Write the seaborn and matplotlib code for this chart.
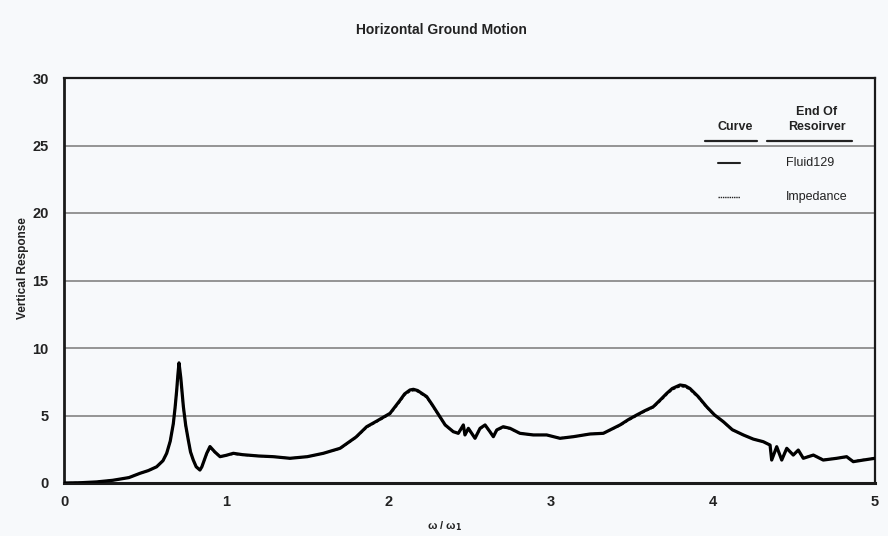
import numpy as np
import pandas as pd
import matplotlib
matplotlib.use("Agg")
import matplotlib.pyplot as plt
import seaborn as sns

# Frequency ratio (omega / omega_1) and vertical response readings
freq_ratio = [0.0, 0.10, 0.20, 0.30, 0.40, 0.469, 0.52, 0.571, 0.61, 0.633, 0.655,
              0.674, 0.685, 0.695, 0.702, 0.709, 0.72, 0.736, 0.75, 0.766, 0.78,
              0.797, 0.815, 0.838, 0.85, 0.865, 0.880, 0.900, 0.930, 0.962, 1.00,
              1.044, 1.10, 1.20, 1.290, 1.393, 1.50, 1.599, 1.702, 1.80, 1.866,
              1.93, 2.010, 2.07, 2.10, 2.133, 2.154, 2.18, 2.236, 2.27, 2.318,
              2.35, 2.400, 2.431, 2.462, 2.472, 2.493, 2.534, 2.565, 2.596, 2.626,
              2.647, 2.668, 2.708, 2.750, 2.811, 2.893, 2.976, 3.058, 3.140, 3.243,
              3.325, 3.428, 3.48, 3.531, 3.58, 3.633, 3.68, 3.716, 3.75, 3.798,
              3.83, 3.859, 3.91, 3.962, 4.01, 4.065, 4.12, 4.188, 4.25, 4.311,
              4.353, 4.363, 4.394, 4.425, 4.456, 4.496, 4.527, 4.558, 4.620, 4.681,
              4.764, 4.825, 4.866, 4.928, 5.0]

fluid129 = [0.0, 0.02, 0.08, 0.20, 0.40, 0.72, 0.92, 1.20, 1.65, 2.20, 3.10,
            4.40, 5.60, 6.90, 8.00, 8.90, 7.80, 5.65, 4.30, 3.20, 2.30,
            1.70, 1.20, 0.96, 1.20, 1.70, 2.20, 2.70, 2.30, 1.95, 2.05,
            2.20, 2.10, 2.00, 1.95, 1.83, 1.95, 2.20, 2.57, 3.40, 4.17,
            4.60, 5.16, 6.10, 6.60, 6.89, 6.94, 6.85, 6.40, 5.80, 4.90,
            4.30, 3.80, 3.68, 4.30, 3.56, 4.05, 3.31, 4.05, 4.30, 3.80,
            3.43, 3.93, 4.17, 4.05, 3.68, 3.56, 3.56, 3.31, 3.43, 3.63,
            3.68, 4.30, 4.70, 5.04, 5.35, 5.65, 6.20, 6.64, 7.00, 7.26,
            7.20, 7.00, 6.40, 5.65, 5.05, 4.54, 3.95, 3.56, 3.25, 3.06,
            2.81, 1.70, 2.69, 1.70, 2.57, 2.07, 2.44, 1.83, 2.07, 1.70,
            1.83, 1.95, 1.58, 1.70, 1.83]

impedance = [0.0, 0.02, 0.08, 0.20, 0.40, 0.72, 0.92, 1.20, 1.65, 2.20, 3.10,
             4.40, 5.55, 6.85, 7.90, 8.80, 7.70, 5.60, 4.25, 3.20, 2.30,
             1.70, 1.22, 0.98, 1.22, 1.70, 2.15, 2.60, 2.28, 1.95, 2.05,
             2.15, 2.08, 2.00, 1.95, 1.83, 1.95, 2.20, 2.55, 3.36, 4.12,
             4.55, 5.10, 6.02, 6.52, 6.80, 6.86, 6.78, 6.34, 5.75, 4.86,
             4.28, 3.80, 3.68, 4.25, 3.58, 4.00, 3.35, 4.00, 4.25, 3.80,
             3.45, 3.90, 4.12, 4.02, 3.68, 3.56, 3.56, 3.33, 3.43, 3.63,
             3.68, 4.26, 4.65, 4.98, 5.30, 5.60, 6.12, 6.56, 6.92, 7.16,
             7.12, 6.92, 6.34, 5.60, 5.02, 4.52, 3.93, 3.56, 3.25, 3.06,
             2.81, 1.75, 2.66, 1.75, 2.55, 2.07, 2.42, 1.85, 2.07, 1.72,
             1.83, 1.93, 1.62, 1.72, 1.83]

x_ticks = [0, 1, 2, 3, 4, 5]
y_ticks = [0, 5, 10, 15, 20, 25, 30]
series_names = ["Fluid129", "Impedance"]

df = pd.DataFrame({
    "ratio": freq_ratio * 2,
    "response": fluid129 + impedance,
    "curve": [series_names[0]] * len(fluid129) + [series_names[1]] * len(impedance),
})

sns.set_theme(style="white")
plt.rcParams["font.family"] = ["Liberation Sans", "DejaVu Sans"]
plt.rcParams["font.weight"] = "bold"

bg = "#f7f9fb"
ink = "#222222"
fig = plt.figure(figsize=(8.88, 5.36), dpi=100, facecolor=bg)
ax = fig.add_axes([64 / 888, 53 / 536, 811 / 888, 405 / 536])
ax.set_facecolor(bg)

# horizontal reference lines
for yv in y_ticks[1:-1]:
    ax.axhline(yv, color="#8c8c8c", lw=1.3, zorder=1)

sns.lineplot(data=df[df["curve"] == "Fluid129"], x="ratio", y="response",
             color="black", lw=2.3, ax=ax, legend=False, zorder=3)
sns.lineplot(data=df[df["curve"] == "Impedance"], x="ratio", y="response",
             color="black", lw=1.4, ls=(0, (1.5, 1)), ax=ax, legend=False, zorder=4)
for ln in ax.get_lines():
    ln.set_solid_joinstyle("round")
    ln.set_solid_capstyle("round")

ax.set_xlim(0, 5)
ax.set_ylim(0, 30)
ax.set_xticks(x_ticks)
ax.set_yticks(y_ticks)
ax.tick_params(axis="both", direction="in", length=4, width=1.2, color="#333333",
               labelsize=10.5, pad=9)
ax.tick_params(axis="y", length=0, pad=11)
for lbl in ax.get_xticklabels() + ax.get_yticklabels():
    lbl.set_fontweight("bold")
    lbl.set_color(ink)

for side in ["left", "bottom", "right", "top"]:
    ax.spines[side].set_visible(True)
    ax.spines[side].set_color("#1a1a1a")
ax.spines["left"].set_linewidth(2.0)
ax.spines["bottom"].set_linewidth(2.2)
ax.spines["right"].set_linewidth(1.6)
ax.spines["top"].set_linewidth(1.6)

ax.set_xlabel("")
ax.set_ylabel("")
fig.text(445 / 888, 1 - 526 / 536, "ω / ω$_1$", ha="center", va="center",
         fontsize=8, fontweight="bold", color=ink)
fig.text(23 / 888, 1 - 268 / 536, "Vertical Response", rotation=90, ha="center",
         va="center", fontsize=8.5, fontweight="bold", color=ink)
fig.text(441 / 888, 1 - 30 / 536, "Horizontal Ground Motion", ha="center",
         va="center", fontsize=10, fontweight="bold", color=ink)

# legend table in the upper right corner
T = ax.transAxes
ax.text(0.827, 0.880, "Curve", transform=T, ha="center", va="center",
        fontsize=9, fontweight="bold", color=ink)
ax.text(0.928, 0.897, "End Of\nResoirver", transform=T, ha="center", va="center",
        fontsize=9, fontweight="bold", color=ink, linespacing=1.3)
ax.plot([0.790, 0.855], [0.845, 0.845], transform=T, color=ink, lw=1.6)
ax.plot([0.867, 0.972], [0.845, 0.845], transform=T, color=ink, lw=1.6)
ax.plot([0.806, 0.834], [0.790, 0.790], transform=T, color=ink, lw=1.5)
ax.plot([0.806, 0.834], [0.706, 0.706], transform=T, color=ink, lw=1.0,
        ls=(0, (1, 0.6)))
ax.text(0.890, 0.790, series_names[0], transform=T, ha="left", va="center",
        fontsize=9, color=ink, fontweight="normal")
ax.text(0.890, 0.706, series_names[1], transform=T, ha="left", va="center",
        fontsize=9, color=ink, fontweight="normal")

fig.savefig("out.png", dpi=100, facecolor=bg)
